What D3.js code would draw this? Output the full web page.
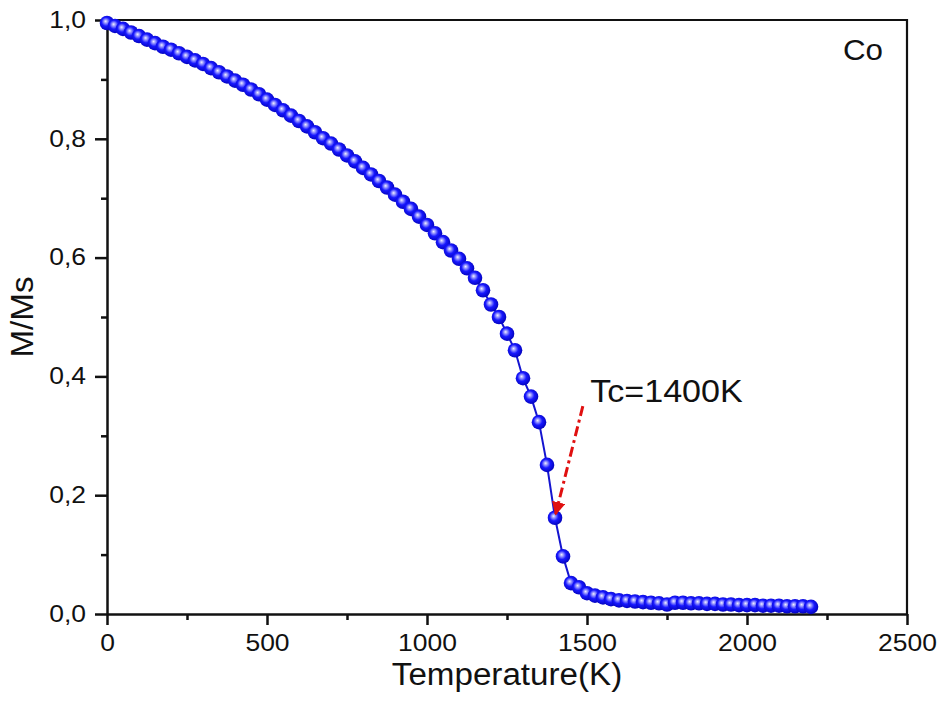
<!DOCTYPE html>
<html>
<head>
<meta charset="utf-8">
<script src="https://cdn.jsdelivr.net/npm/d3@7"></script>
<style>
  body { margin: 0; background: #fff; }
  text { font-family: "Liberation Sans", Arial, sans-serif; fill: #111; }
</style>
</head>
<body>
<script>
// temperature (K), step 25
const temps = d3.range(0, 2201, 25);
// reduced magnetization M/Ms
const mag = [
  0.995, 0.990, 0.985, 0.979, 0.973, 0.967, 0.961, 0.955, 0.950, 0.944,
  0.938, 0.932, 0.926, 0.919, 0.912, 0.905, 0.898, 0.891, 0.883, 0.875,
  0.866, 0.857, 0.848, 0.839, 0.830, 0.821, 0.811, 0.801, 0.792, 0.782,
  0.772, 0.762, 0.751, 0.740, 0.729, 0.718, 0.706, 0.694, 0.682, 0.669,
  0.655, 0.641, 0.626, 0.612, 0.598, 0.582, 0.566, 0.545, 0.521, 0.500,
  0.472, 0.444, 0.397, 0.366, 0.323, 0.251, 0.162, 0.097, 0.052, 0.045,
  0.035, 0.031, 0.028, 0.025, 0.023, 0.022, 0.021, 0.020, 0.019, 0.018,
  0.016, 0.019, 0.019, 0.018, 0.018, 0.017, 0.017, 0.016, 0.016, 0.015,
  0.015, 0.015, 0.014, 0.014, 0.014, 0.013, 0.013, 0.013, 0.012
];
const xTicks = [0, 500, 1000, 1500, 2000, 2500];
const yTicks = [0, 0.2, 0.4, 0.6, 0.8, 1.0];
const tcLabel = 'Tc=1400K';
const arrowFrom = [1487, 0.35];
const arrowTo = [1402, 0.168];
const sample = 'Co';

const W = 941, H = 713;
const margin = {top: 20, right: 34, bottom: 99, left: 107};
const iw = W - margin.left - margin.right;
const ih = H - margin.top - margin.bottom;

const x = d3.scaleLinear().domain([0, 2500]).range([0, iw]);
const y = d3.scaleLinear().domain([0, 1]).range([ih, 0]);

const comma = d3.formatLocale({decimal: ',', thousands: '.', grouping: [3], currency: ['', '']});
const fmtY = comma.format('.1f');

// the figure's lettering is a little wider than Arial
const stretch = 1.15;

const svg = d3.select('body').append('svg')
  .attr('width', W)
  .attr('height', H);

svg.append('rect').attr('width', W).attr('height', H).attr('fill', '#fff');

const defs = svg.append('defs');
const grad = defs.append('radialGradient')
  .attr('id', 'ball')
  .attr('cx', '45%').attr('cy', '45%').attr('r', '60%')
  .attr('fx', '40%').attr('fy', '38%');
grad.append('stop').attr('offset', '0%').attr('stop-color', '#f0f0ff');
grad.append('stop').attr('offset', '22%').attr('stop-color', '#9090ff');
grad.append('stop').attr('offset', '50%').attr('stop-color', '#1818ff');
grad.append('stop').attr('offset', '100%').attr('stop-color', '#0000b4');

defs.append('marker')
  .attr('id', 'head')
  .attr('viewBox', '0 0 10 10')
  .attr('refX', 9).attr('refY', 5)
  .attr('markerWidth', 4.5).attr('markerHeight', 4.5)
  .attr('markerUnits', 'strokeWidth')
  .attr('orient', 'auto')
  .append('path')
    .attr('d', 'M0,0L10,5L0,10z')
    .attr('fill', '#e01010');

const g = svg.append('g')
  .attr('transform', `translate(${margin.left},${margin.top})`);

// frame top / right
g.append('path')
  .attr('d', `M0,0H${iw}V${ih}`)
  .attr('fill', 'none')
  .attr('stroke', '#111')
  .attr('stroke-width', 2.2);

// minor ticks
g.append('g')
  .attr('transform', `translate(0,${ih})`)
  .call(d3.axisBottom(x).tickValues(d3.range(250, 2500, 500)).tickSize(6).tickFormat(''))
  .call(a => a.select('.domain').remove())
  .call(a => a.selectAll('line').attr('stroke-width', 2.5).attr('stroke', '#111'));
g.append('g')
  .call(d3.axisLeft(y).tickValues(d3.range(0.1, 1, 0.2)).tickSize(6).tickFormat(''))
  .call(a => a.select('.domain').remove())
  .call(a => a.selectAll('line').attr('stroke-width', 2.5).attr('stroke', '#111'));

// major axes
const xAxis = g.append('g')
  .attr('transform', `translate(0,${ih})`)
  .call(d3.axisBottom(x).tickValues(xTicks).tickSize(11).tickSizeOuter(0).tickPadding(10).tickFormat(d3.format('d')));
const yAxis = g.append('g')
  .call(d3.axisLeft(y).tickValues(yTicks).tickSize(12).tickSizeOuter(0).tickPadding(9).tickFormat(fmtY));

[xAxis, yAxis].forEach(a => {
  a.select('.domain').attr('stroke', '#111').attr('stroke-width', 2.5);
  a.selectAll('line').attr('stroke', '#111').attr('stroke-width', 2.5);
  a.selectAll('text').style('font-size', '23px').attr('fill', '#111')
    .style('font-family', '"Liberation Sans", Arial, sans-serif')
    .attr('transform', `scale(${stretch},1)`);
});
yAxis.selectAll('text').attr('x', -21 / stretch);

// axis titles
svg.append('text')
  .attr('transform', `translate(${margin.left + iw / 2},685) scale(1.07,1)`)
  .attr('text-anchor', 'middle')
  .style('font-size', '31px')
  .text('Temperature(K)');
svg.append('text')
  .attr('transform', `translate(33,${margin.top + ih / 2}) rotate(-90) scale(1.07,1)`)
  .attr('text-anchor', 'middle')
  .style('font-size', '31px')
  .text('M/Ms');

const pts = temps.map((t, i) => ({t, m: mag[i]}));

g.append('path')
  .datum(pts)
  .attr('d', d3.line().x(d => x(d.t)).y(d => y(d.m)))
  .attr('fill', 'none')
  .attr('stroke', '#1414d0')
  .attr('stroke-width', 2);

g.selectAll('circle.pt')
  .data(pts)
  .enter().append('circle')
    .attr('class', 'pt')
    .attr('cx', d => x(d.t))
    .attr('cy', d => y(d.m))
    .attr('r', 7.3)
    .attr('fill', 'url(#ball)');

// Tc annotation
g.append('line')
  .attr('x1', x(arrowFrom[0])).attr('y1', y(arrowFrom[1]))
  .attr('x2', x(arrowTo[0])).attr('y2', y(arrowTo[1]))
  .attr('stroke', '#e01010')
  .attr('stroke-width', 3)
  .attr('stroke-dasharray', '10,4,3,4')
  .attr('marker-end', 'url(#head)');

g.append('text')
  .attr('transform', `translate(${x(1510)},${y(0.357)}) scale(1.1,1)`)
  .style('font-size', '31px')
  .text(tcLabel);

g.append('text')
  .attr('transform', `translate(${x(2425)},${y(0.932)}) scale(1.08,1)`)
  .attr('text-anchor', 'end')
  .style('font-size', '29px')
  .text(sample);
</script>
</body>
</html>
